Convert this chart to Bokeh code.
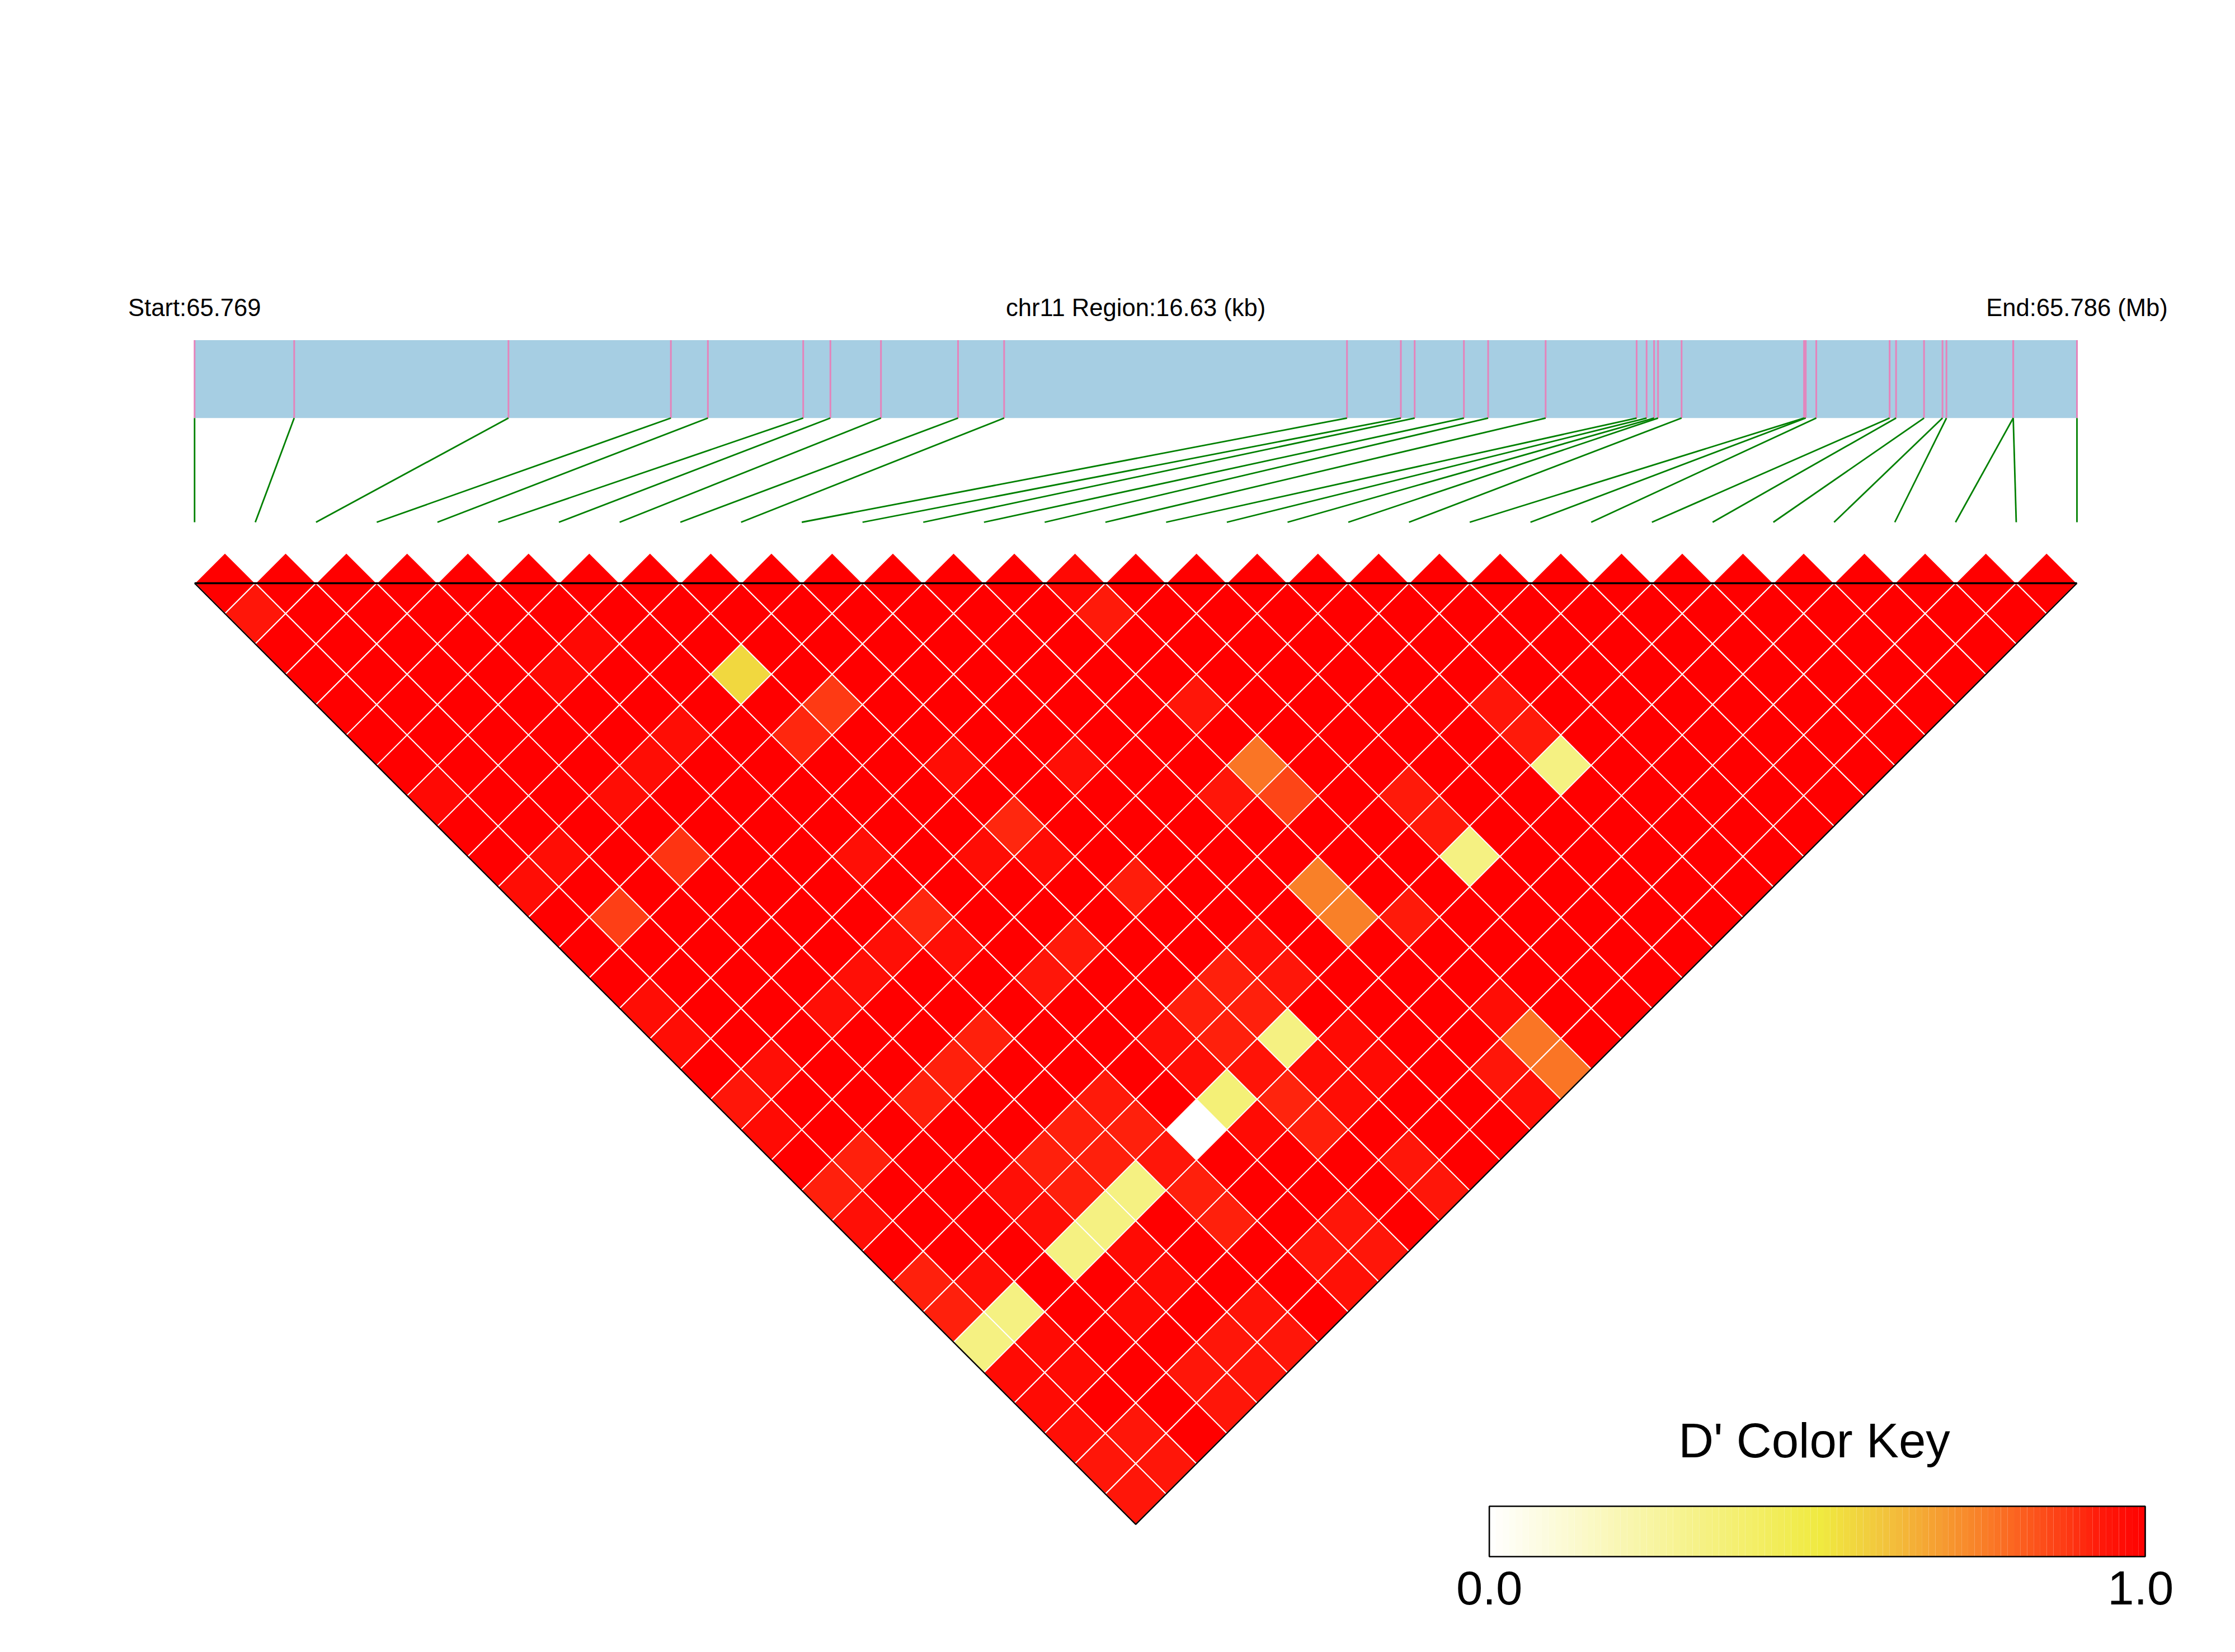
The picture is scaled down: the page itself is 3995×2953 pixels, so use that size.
from bokeh.plotting import figure
from bokeh.models import Range1d, ColumnDataSource
from bokeh.core.properties import value
from bokeh.embed import file_html
from bokeh.resources import INLINE

# ---- data ----
region_kb = 16.63
snp_kb = [0.000, 0.880, 2.773, 4.208, 4.535, 5.377, 5.617, 6.064, 6.745, 7.152,
          10.181, 10.657, 10.779, 11.214, 11.428, 11.936, 12.740, 12.828, 12.894,
          12.929, 13.137, 14.219, 14.234, 14.327, 14.975, 15.032, 15.279, 15.442,
          15.477, 16.067, 16.067, 16.630]

# D' of pairs that are below 1.0: second SNP -> {first SNP: D'}; every other pair is 1.0
dprime_below_one = {
    2:  {0: .94},
    8:  {0: .975, 4: .975, 5: .975},
    11: {0: .965, 1: .965, 3: .965, 4: .965, 5: .965, 7: .55},
    13: {1: .87, 3: .89, 7: .91, 8: .88},
    15: {0: .965, 14: .975},
    16: {0: .965, 6: .96, 9: .965, 14: .93},
    18: {0: .94, 1: .96, 3: .96, 4: .96, 5: .96, 6: .91, 8: .965, 9: .91, 11: .96},
    19: {0: .97, 6: .96, 9: .965, 14: .94},
    21: {0: .92, 1: .92, 3: .92, 4: .92, 5: .92, 7: .94, 8: .93, 10: .925, 13: .94, 14: .77},
    22: {0: .96, 14: .86},
    24: {0: .92, 3: .96, 4: .92, 5: .92, 6: .93, 8: .96, 9: .92, 10: .92, 11: .96, 13: .75, 16: .93, 19: .94},
    25: {0: .92, 1: .96, 3: .96, 4: .92, 5: .92, 6: .92, 8: .96, 9: .92, 10: .92, 11: .94, 13: .75, 16: .93, 19: .93},
    26: {0: .33, 1: .33, 3: .33, 4: .33, 5: .33, 6: .94, 7: 0.0, 8: .36, 9: .95, 10: .33, 14: .93, 16: .33, 19: .33},
    27: {0: .97, 1: .97, 4: .97, 6: .92, 8: .97, 9: .915, 10: .965, 11: .97},
    28: {0: .97, 1: .97, 3: .97, 4: .97, 6: .92, 9: .92, 10: .965, 11: .97},
    29: {0: .96, 14: .965},
    30: {0: .94, 1: .94, 3: .94, 4: .94, 5: .95, 7: .94, 8: .94, 10: .94, 13: .94, 14: .77},
    31: {0: .94, 1: .94, 3: .94, 4: .94, 5: .94, 7: .955, 8: .94, 10: .94, 13: .96, 14: .77},
}

ramp_stops = [0.0, 0.505, 0.60, 0.75, 0.88, 0.93, 1.0]
ramp_colors = [(255, 255, 255), (240, 234, 64), (242, 197, 61), (249, 128, 40), (254, 58, 20), (255, 26, 10), (255, 0, 0)]
key_bands = 100
start_label = "Start:65.769"
mid_label = "chr11 Region:16.63 (kb)"
end_label = "End:65.786 (Mb)"
key_title = "D' Color Key"
key_min_label = "0.0"
key_max_label = "1.0"

# ---- page layout (px) ----
W, H = 3979, 2937
LEFT, RIGHT = 347.3, 3712.0
TOP_LINE = 1042.0
ROW = (RIGHT - LEFT) / 62.0
BAR_T, BAR_B = 607.5, 746.8
LINK_B = 933.0
KEY_L, KEY_R = 2661.6, 3834.0
KEY_T, KEY_B = 2692.0, 2782.0


def ramp(v):
    for k in range(len(ramp_stops) - 1):
        if v <= ramp_stops[k + 1]:
            t = (v - ramp_stops[k]) / (ramp_stops[k + 1] - ramp_stops[k])
            a, b = ramp_colors[k], ramp_colors[k + 1]
            return "#%02x%02x%02x" % tuple(round(a[c] + t * (b[c] - a[c])) for c in range(3))
    return "#ff0000"


kb_per_px = region_kb / (RIGHT - LEFT)
p = figure(
    width=W, height=H, output_backend="svg", toolbar_location=None,
    x_range=Range1d(-LEFT * kb_per_px, (W - LEFT) * kb_per_px),
    y_range=Range1d(H, 0),
    min_border=0, min_border_left=0, min_border_right=0, min_border_top=0, min_border_bottom=0,
)
p.axis.visible = False
p.grid.visible = False
p.outline_line_color = None
p.background_fill_color = "white"
p.extra_y_ranges["rows"] = Range1d((H - TOP_LINE) / ROW, -TOP_LINE / ROW)
p.extra_x_ranges["key"] = Range1d(-KEY_L / (KEY_R - KEY_L), (W - KEY_L) / (KEY_R - KEY_L))

n = len(snp_kb)
pitch = region_kb / (n - 1)

# gene region bar and SNP ticks
p.quad(left=[0], right=[region_kb], top=[BAR_T], bottom=[BAR_B], fill_color="#a6cee3", line_color=None)
p.segment(x0=snp_kb, x1=snp_kb, y0=[BAR_T] * n, y1=[BAR_B] * n, line_color="#e583bb", line_width=3)
p.segment(x0=snp_kb, y0=[BAR_B] * n, x1=[k * pitch for k in range(n)], y1=[LINK_B] * n,
          line_color="#008000", line_width=2.8)

# heat map cells
xs, ys, cols = [], [], []
for i in range(n):
    for j in range(i + 1, n):
        v = dprime_below_one.get(j, {}).get(i, 1.0)
        cx = (i + j) * pitch / 2
        cy = j - i - 1
        xs.append([cx - pitch / 2, cx, cx + pitch / 2, cx])
        ys.append([cy, cy - 1, cy, cy + 1])
        cols.append(ramp(v))
p.patches(xs="xs", ys="ys", source=ColumnDataSource(dict(xs=xs, ys=ys, c=cols)), y_range_name="rows",
          fill_color="c", line_color="white", line_width=2)

# outline of the triangle
p.line(x=[0, region_kb], y=[0, 0], y_range_name="rows", line_color="black", line_width=3.6)
p.line(x=[0, region_kb / 2, region_kb], y=[0, n - 1, 0], y_range_name="rows", line_color="black", line_width=2.4)

# colour key
kl = [k / key_bands for k in range(key_bands)]
kr = [(k + 1) / key_bands for k in range(key_bands)]
kc = [ramp((k + 0.5) / key_bands) for k in range(key_bands)]
p.quad(left=kl, right=kr, top=[KEY_T] * key_bands, bottom=[KEY_B] * key_bands, fill_color=kc, line_color=None,
       x_range_name="key")
p.quad(left=[0], right=[1], top=[KEY_T], bottom=[KEY_B], fill_color=None, line_color="black", line_width=2.6,
       x_range_name="key")

# texts
font = value("Liberation Sans")
p.text(x=[0, region_kb / 2, region_kb], y=[549, 549, 549], text=[start_label, mid_label, end_label],
       text_font=font, text_font_size="43.6px", text_align="center", text_baseline="alphabetic", text_color="black")
p.text(x=[0.4955], y=[2574], text=[key_title], x_range_name="key", text_font=font, text_font_size="87px",
       text_align="center", text_baseline="alphabetic", text_color="black")
p.text(x=[0, 0.993], y=[2838, 2838], text=[key_min_label, key_max_label], x_range_name="key", text_font=font,
       text_font_size="85px", text_align="center", text_baseline="alphabetic", text_color="black")

open("out.html", "w").write(file_html(p, INLINE))
